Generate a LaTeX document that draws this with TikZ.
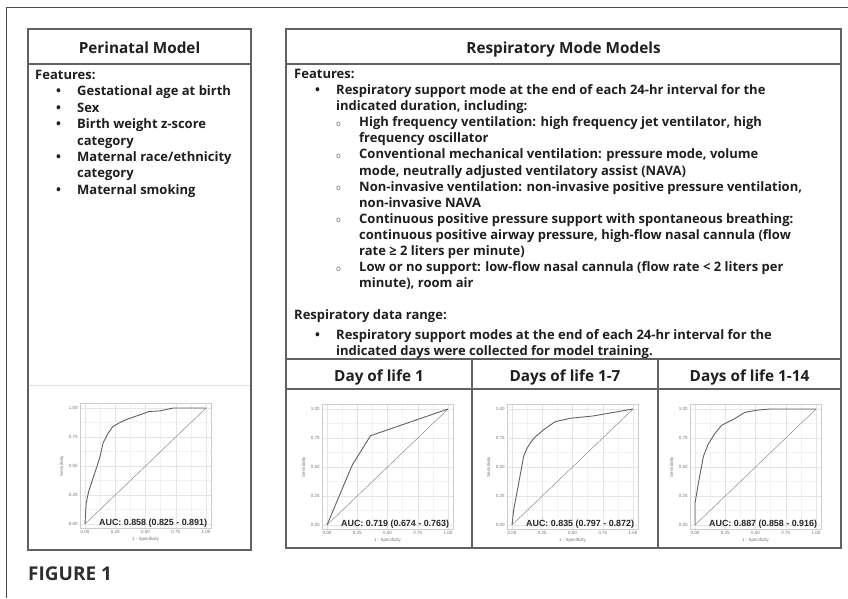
\documentclass[tikz,border=0pt]{standalone}
\usepackage{fontspec}
\setmainfont{Open Sans}
\newfontfamily\plotfont{Liberation Sans}
\newfontfamily\figfont{Open Sans}

\tikzset{
  frameline/.style={draw=black!70, line width=0.9pt},
  panelline/.style={draw=black!62, line width=1.1pt},
  imgedge/.style={draw=black!12, line width=0.8pt},
  headtxt/.style={font=\fontsize{15.3}{18}\selectfont\bfseries, text=black!88, inner sep=0pt, anchor=base},
  bodytxt/.style={font=\fontsize{13}{16.4}\selectfont\bfseries, text=black!88, align=left, inner sep=0pt, anchor=north west},
  figtxt/.style={font=\fontsize{19}{21}\figfont\bfseries, text=black!82, inner sep=0pt, anchor=base west},
  gridmajor/.style={draw=black!10, line width=0.5pt},
  gridminor/.style={draw=black!5, line width=0.4pt},
  plotframe/.style={draw=black!20, line width=0.5pt},
  ticktxt/.style={font=\fontsize{4.5}{5}\plotfont, text=black!55, inner sep=0.5pt},
  auctxt/.style={font=\fontsize{8.9}{10}\plotfont\bfseries, text=black!85, inner sep=0pt},
  chance/.style={draw=black!45, line width=0.5pt},
  roccurve/.style={draw=black!62, line width=0.9pt, line join=round}
}

\newcommand{\ind}{\hspace*{21pt}}
\newcommand{\bul}{\makebox[21pt][l]{\textbullet}}
\newcommand{\lvlone}{\hspace*{42pt}}
\newcommand{\subbul}{\hspace*{42pt}\makebox[23pt][l]{\raisebox{0.5pt}{\fontsize{8}{9}\selectfont\mdseries\color{black!60}o}}}
\newcommand{\lvltwo}{\hspace*{65pt}}

\newcommand{\rocpanel}[4]{%
\begin{scope}[shift={#1}, x=121pt, y=116pt]
  \fill[white] (-0.04,-0.04) rectangle (1.04,1.04);
  \foreach \g in {0.125,0.375,0.625,0.875} {
    \draw[gridminor] (\g,-0.04) -- (\g,1.04);
    \draw[gridminor] (-0.04,\g) -- (1.04,\g);
  }
  \foreach \g in {0,0.25,0.5,0.75,1} {
    \draw[gridmajor] (\g,-0.04) -- (\g,1.04);
    \draw[gridmajor] (-0.04,\g) -- (1.04,\g);
  }
  \draw[plotframe] (-0.04,-0.04) rectangle (1.04,1.04);
  \foreach \t/\l/\k in {0/0.00/a,0.25/0.25/b,0.5/0.50/c,0.75/0.75/d,1/1.00/e} {
    \node[ticktxt, anchor=east] (#2-y\k) at (-0.055,\t) {\l};
    \node[ticktxt, anchor=north] (#2-x\k) at (\t,-0.05) {\l};
  }
  \node[ticktxt, rotate=90] (#2-ylab) at (-0.19,0.5) {Sensitivity};
  \node[ticktxt] (#2-xlab) at (0.5,-0.13) {1 - Specificity};
  \draw[chance] (0,0) -- (1,1);
  \draw[roccurve] plot coordinates {#3};
  \node[auctxt, anchor=base east] (#2-auc) at (1.01,-0.01) {#4};
\end{scope}}

\begin{document}
\begin{tikzpicture}[x=1pt, y=-1pt]
\useasboundingbox (0,0) rectangle (848,598);
\fill[white] (0,0) rectangle (848,598);
\draw[frameline] (6,598) -- (6,7) -- (848,7);

% perinatal panel
\draw[panelline] (28,29) rectangle (251,550);
\draw[panelline] (28,64) -- (251,64);
\node[headtxt] (periHead) at (139.5,53) {Perinatal Model};
\node[bodytxt] (periText) at (35,70) {Features:\\
\ind\bul Gestational age at birth\\
\ind\bul Sex\\
\ind\bul Birth weight z-score\\
\lvlone category\\
\ind\bul Maternal race/ethnicity\\
\lvlone category\\
\ind\bul Maternal smoking};
\draw[imgedge] (29,385) -- (250,385);
\rocpanel{(85,524)}{peri}{(0,0) (0.005,0.1) (0.01,0.18) (0.03,0.28) (0.068,0.40) (0.1,0.5) (0.124,0.58) (0.15,0.70) (0.19,0.78) (0.23,0.84) (0.28,0.87) (0.34,0.9) (0.45,0.94) (0.53,0.97) (0.62,0.975) (0.73,1) (1,1)}{AUC: 0.858 (0.825 - 0.891)}

% respiratory panel
\draw[panelline] (286,29) rectangle (841,548);
\draw[panelline] (286,64) -- (841,64);
\node[headtxt] (respHead) at (563.5,53) {Respiratory Mode Models};
\node[bodytxt, font=\fontsize{13}{16.1}\selectfont\bfseries] (respText) at (294,69) {Features:\\
\ind\bul Respiratory support mode at the end of each 24-hr interval for the\\
\lvlone indicated duration, including:\\
\subbul High frequency ventilation: high frequency jet ventilator, high\\
\lvltwo frequency oscillator\\
\subbul Conventional mechanical ventilation: pressure mode, volume\\
\lvltwo mode, neutrally adjusted ventilatory assist (NAVA)\\
\subbul Non-invasive ventilation: non-invasive positive pressure ventilation,\\
\lvltwo non-invasive NAVA\\
\subbul Continuous positive pressure support with spontaneous breathing:\\
\lvltwo continuous positive airway pressure, high-flow nasal cannula (flow\\
\lvltwo rate ≥ 2 liters per minute)\\
\subbul Low or no support: low-flow nasal cannula (flow rate < 2 liters per\\
\lvltwo minute), room air\\[16.1pt]
Respiratory data range:\\[3pt]
\ind\bul Respiratory support modes at the end of each 24-hr interval for the\\
\lvlone indicated days were collected for model training.};

\draw[panelline] (286,359) -- (841,359);
\draw[panelline] (286,389) -- (841,389);
\draw[panelline] (472,359) -- (472,548);
\draw[panelline] (658,359) -- (658,548);
\node[headtxt] (dayOneHead) at (379,381) {Day of life 1};
\node[headtxt] (daySevenHead) at (565,381) {Days of life 1-7};
\node[headtxt] (dayFourteenHead) at (749.5,381) {Days of life 1-14};

\rocpanel{(327,525)}{dol1}{(0,0) (0.21,0.52) (0.36,0.77) (1,1)}{AUC: 0.719 (0.674 - 0.763)}
\rocpanel{(512,525)}{dol7}{(0,0) (0.014,0.13) (0.055,0.36) (0.096,0.59) (0.123,0.66) (0.16,0.72) (0.192,0.76) (0.26,0.82) (0.30,0.85) (0.356,0.89) (0.48,0.92) (0.67,0.94) (0.78,0.96) (1,1)}{AUC: 0.835 (0.797 - 0.872)}
\rocpanel{(695,525)}{dol14}{(0,0) (0,0.19) (0.028,0.36) (0.069,0.59) (0.11,0.70) (0.165,0.79) (0.22,0.86) (0.317,0.91) (0.41,0.97) (0.51,0.99) (0.62,1) (1,1)}{AUC: 0.887 (0.858 - 0.916)}

\node[figtxt] (figLabel) at (28,580) {FIGURE 1};
\end{tikzpicture}
\end{document}
